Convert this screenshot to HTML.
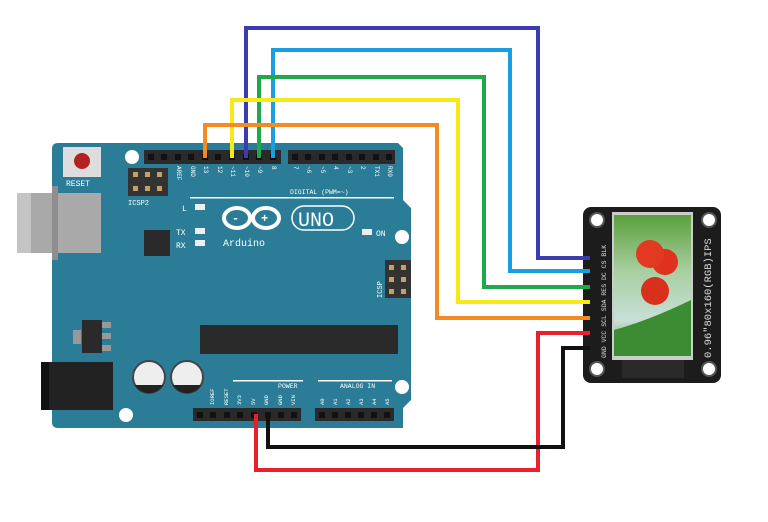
<!DOCTYPE html>
<html><head><style>
html,body{margin:0;padding:0;background:#fff;width:768px;height:522px;overflow:hidden}
text{font-family:"Liberation Mono",monospace}
</style></head><body>
<svg width="768" height="522" viewBox="0 0 768 522" xmlns="http://www.w3.org/2000/svg">
<defs>
<linearGradient id="scr" x1="0" y1="0" x2="0" y2="1">
<stop offset="0" stop-color="#5aa03c"/><stop offset="0.4" stop-color="#a8cfa0"/><stop offset="0.75" stop-color="#c8e0d8"/><stop offset="1" stop-color="#4a9a40"/></linearGradient>
</defs>
<!-- board -->
<path d="M58 143 H398 L403 148 V200 L411 208 V400 L403 408 V428 H58 Q52 428 52 422 V149 Q52 143 58 143Z" fill="#2b7d97"/>
<!-- USB -->
<rect x="17" y="193" width="84" height="60" fill="#a9a9a9"/>
<rect x="17" y="193" width="14" height="60" fill="#c4c4c4"/>
<rect x="52" y="186" width="6" height="74" fill="#8e8e8e"/>
<!-- power jack -->
<rect x="41" y="362" width="72" height="48" fill="#222"/>
<rect x="41" y="362" width="8" height="48" fill="#111"/>
<!-- holes -->
<circle cx="132" cy="157" r="7" fill="#fff"/>
<circle cx="402" cy="237" r="7" fill="#fff"/>
<circle cx="402" cy="387" r="7" fill="#fff"/>
<circle cx="126" cy="415" r="7" fill="#fff"/>
<!-- reset -->
<rect x="63" y="147" width="38" height="30" fill="#ddd"/>
<circle cx="82" cy="161" r="8" fill="#b22222"/>
<text x="66" y="186" font-size="8" fill="#fff">RESET</text>
<!-- ICSP2 -->
<rect x="128" y="168" width="40" height="28" fill="#333"/>
<g fill="#c8a060"><rect x="133" y="172" width="5" height="5"/><rect x="145" y="172" width="5" height="5"/><rect x="157" y="172" width="5" height="5"/><rect x="133" y="186" width="5" height="5"/><rect x="145" y="186" width="5" height="5"/><rect x="157" y="186" width="5" height="5"/></g>
<text x="128" y="205" font-size="7" fill="#fff">ICSP2</text>
<!-- headers top -->
<rect x="144" y="150" width="137" height="14" fill="#2a2a2a"/>
<rect x="288" y="150" width="107" height="14" fill="#2a2a2a"/>
<g fill="#111">
<rect x="148" y="154" width="6" height="6"/><rect x="161" y="154" width="6" height="6"/><rect x="175" y="154" width="6" height="6"/><rect x="188" y="154" width="6" height="6"/><rect x="202" y="154" width="6" height="6"/><rect x="215" y="154" width="6" height="6"/><rect x="229" y="154" width="6" height="6"/><rect x="243" y="154" width="6" height="6"/><rect x="256" y="154" width="6" height="6"/><rect x="270" y="154" width="6" height="6"/>
<rect x="292" y="154" width="6" height="6"/><rect x="305" y="154" width="6" height="6"/><rect x="319" y="154" width="6" height="6"/><rect x="332" y="154" width="6" height="6"/><rect x="346" y="154" width="6" height="6"/><rect x="359" y="154" width="6" height="6"/><rect x="373" y="154" width="6" height="6"/><rect x="386" y="154" width="6" height="6"/></g>
<g font-size="6" fill="#fff">
<text transform="translate(177,166) rotate(90)">AREF</text><text transform="translate(191,166) rotate(90)">GND</text><text transform="translate(204,166) rotate(90)">13</text><text transform="translate(218,166) rotate(90)">12</text><text transform="translate(231,166) rotate(90)">~11</text><text transform="translate(245,166) rotate(90)">~10</text><text transform="translate(258,166) rotate(90)">~9</text><text transform="translate(272,166) rotate(90)">8</text>
<text transform="translate(294,166) rotate(90)">7</text><text transform="translate(307,166) rotate(90)">~6</text><text transform="translate(321,166) rotate(90)">~5</text><text transform="translate(334,166) rotate(90)">4</text><text transform="translate(348,166) rotate(90)">~3</text><text transform="translate(361,166) rotate(90)">2</text><text transform="translate(375,166) rotate(90)">TX1</text><text transform="translate(388,166) rotate(90)">RX0</text></g>
<text x="290" y="194" font-size="6.5" fill="#fff">DIGITAL (PWM=~)</text>
<rect x="190" y="197" width="204" height="1.5" fill="#fff"/>
<!-- LEDs -->
<text x="182" y="211" font-size="8" fill="#fff">L</text><rect x="195" y="204" width="10" height="6" fill="#eee"/>
<text x="176" y="235" font-size="8" fill="#fff">TX</text><rect x="195" y="228" width="10" height="6" fill="#eee"/>
<text x="176" y="248" font-size="8" fill="#fff">RX</text><rect x="195" y="240" width="10" height="6" fill="#eee"/>
<rect x="362" y="229" width="10" height="6" fill="#eee"/><text x="376" y="236" font-size="8" fill="#fff">ON</text>
<!-- logo -->
<g fill="none" stroke="#fff" stroke-width="4"><ellipse cx="237" cy="218" rx="13" ry="10"/><ellipse cx="266" cy="218" rx="13" ry="10"/></g>
<text x="232" y="222" font-size="12" fill="#fff" font-weight="bold">-</text><text x="261" y="222" font-size="12" fill="#fff" font-weight="bold">+</text>
<rect x="292" y="206" width="62" height="24" rx="12" fill="none" stroke="#fff" stroke-width="1.5"/>
<text x="298" y="226" font-size="20" fill="#fff" font-family="Liberation Sans,sans-serif">UNO</text>
<text x="223" y="246" font-size="10" fill="#fff">Arduino</text>
<!-- chip -->
<rect x="144" y="230" width="26" height="26" fill="#2a2a2a"/>
<!-- ICSP -->
<rect x="385" y="260" width="26" height="38" fill="#333"/>
<g fill="#c8a060"><rect x="389" y="265" width="5" height="5"/><rect x="401" y="265" width="5" height="5"/><rect x="389" y="277" width="5" height="5"/><rect x="401" y="277" width="5" height="5"/><rect x="389" y="289" width="5" height="5"/><rect x="401" y="289" width="5" height="5"/></g>
<text transform="translate(382,298) rotate(-90)" font-size="7" fill="#fff">ICSP</text>
<!-- regulator -->
<rect x="73" y="330" width="8" height="14" fill="#999"/><rect x="82" y="320" width="20" height="33" fill="#2a2a2a"/>
<g fill="#999"><rect x="102" y="322" width="9" height="6"/><rect x="102" y="333" width="9" height="6"/><rect x="102" y="345" width="9" height="6"/></g>
<!-- atmega -->
<rect x="200" y="325" width="198" height="29" fill="#2a2a2a"/>
<!-- caps -->
<circle cx="149" cy="377" r="16" fill="#eee" stroke="#444" stroke-width="2"/><circle cx="187" cy="377" r="16" fill="#eee" stroke="#444" stroke-width="2"/>
<path d="M135 385 A16 16 0 0 0 163 385Z" fill="#222"/><path d="M173 385 A16 16 0 0 0 201 385Z" fill="#222"/>
<!-- bottom headers -->
<rect x="193" y="408" width="108" height="13" fill="#2a2a2a"/>
<rect x="315" y="408" width="79" height="13" fill="#2a2a2a"/>
<g fill="#111"><rect x="197" y="412" width="6" height="6"/><rect x="210" y="412" width="6" height="6"/><rect x="224" y="412" width="6" height="6"/><rect x="237" y="412" width="6" height="6"/><rect x="251" y="412" width="6" height="6"/><rect x="265" y="412" width="6" height="6"/><rect x="278" y="412" width="6" height="6"/><rect x="291" y="412" width="6" height="6"/>
<rect x="319" y="412" width="6" height="6"/><rect x="332" y="412" width="6" height="6"/><rect x="345" y="412" width="6" height="6"/><rect x="358" y="412" width="6" height="6"/><rect x="371" y="412" width="6" height="6"/><rect x="384" y="412" width="6" height="6"/></g>
<rect x="233" y="380" width="70" height="1.5" fill="#fff"/><rect x="318" y="380" width="74" height="1.5" fill="#fff"/>
<text x="278" y="388" font-size="6.5" fill="#fff">POWER</text><text x="340" y="388" font-size="6.5" fill="#fff">ANALOG IN</text>
<g font-size="5.5" fill="#fff">
<text transform="translate(214,405) rotate(-90)">IOREF</text><text transform="translate(228,405) rotate(-90)">RESET</text><text transform="translate(241,405) rotate(-90)">3V3</text><text transform="translate(255,405) rotate(-90)">5V</text><text transform="translate(268,405) rotate(-90)">GND</text><text transform="translate(282,405) rotate(-90)">GND</text><text transform="translate(295,405) rotate(-90)">VIN</text>
<text transform="translate(324,405) rotate(-90)">A0</text><text transform="translate(337,405) rotate(-90)">A1</text><text transform="translate(350,405) rotate(-90)">A2</text><text transform="translate(363,405) rotate(-90)">A3</text><text transform="translate(376,405) rotate(-90)">A4</text><text transform="translate(389,405) rotate(-90)">A5</text></g>
<!-- display -->
<rect x="583" y="207" width="138" height="176" rx="8" fill="#1c1c1c"/>
<circle cx="597" cy="220" r="7" fill="#fff" stroke="#555" stroke-width="2"/><circle cx="709" cy="220" r="7" fill="#fff" stroke="#555" stroke-width="2"/>
<circle cx="597" cy="369" r="7" fill="#fff" stroke="#555" stroke-width="2"/><circle cx="709" cy="369" r="7" fill="#fff" stroke="#555" stroke-width="2"/>
<rect x="612" y="212" width="81" height="148" fill="#ccc"/>
<rect x="614" y="215" width="77" height="141" fill="url(#scr)"/>
<path d="M614 330 Q650 320 691 300 V356 H614Z" fill="#3c8c34"/>
<circle cx="665" cy="262" r="13" fill="#e0301e"/><circle cx="650" cy="254" r="14" fill="#e23a22"/><circle cx="655" cy="291" r="14" fill="#d8301c"/>
<rect x="622" y="360" width="62" height="18" fill="#2a2a2a"/>
<text transform="translate(711,358) rotate(-90)" font-size="10.5" fill="#ddd" font-family="Liberation Sans,sans-serif">0.96"80x160(RGB)IPS</text>
<g font-size="6.5" fill="#ddd" font-family="Liberation Sans,sans-serif">
<text transform="translate(606,358) rotate(-90)">GND VCC SCL SDA RES DC  CS  BLK</text></g>
<!-- wires -->
<g fill="none" stroke-width="4" stroke-linejoin="miter">
<path d="M246 158 V28 H538 V258 H590" stroke="#3a3cb0"/>
<path d="M273 158 V50 H510 V271 H590" stroke="#1a9ee0"/>
<path d="M259 158 V77 H484 V287 H590" stroke="#20a84a"/>
<path d="M232 158 V100 H458 V302 H590" stroke="#f7e817"/>
<path d="M205 158 V125 H437 V318 H590" stroke="#f38a22"/>
<path d="M256 414 V470 H538 V333 H590" stroke="#e8202a"/>
<path d="M268 414 V447 H563 V348 H590" stroke="#111"/>
</g>
</svg>
</body></html>
